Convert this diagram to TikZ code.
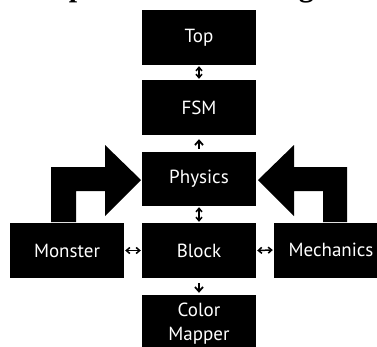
\documentclass[tikz,border=0pt]{standalone}
\usepackage{fontspec}
\setmainfont{PT Sans}
\newfontfamily\titlefont{Liberation Serif}
\usetikzlibrary{arrows.meta}
\begin{document}
\begin{tikzpicture}[x=1pt,y=-1pt,
  blk/.style={fill=black,text=white,minimum width=114pt,minimum height=55pt,inner sep=0pt,align=center,font=\fontsize{19}{24}\selectfont},
  link/.style={line width=1.5pt,{Straight Barb[length=3.5pt,width=6pt]}-{Straight Barb[length=3.5pt,width=6pt]}},
  one/.style={line width=1.8pt,-{Straight Barb[length=4.5pt,width=8pt]}},
  bent/.style={fill=black}]
\useasboundingbox (0,0) rectangle (377,346);
\clip (0,0) rectangle (377,346);
\node[anchor=base west,font=\titlefont\bfseries\fontsize{30}{36}\selectfont] (title) at (33,-3.5) {Top-Level Block Diagram};
\node[blk] (top) at (199,37.5) {Top};
\node[blk] (fsm) at (199,107.5) {FSM};
\node[blk,minimum height=54pt] (phys) at (199,179) {Physics};
\node[blk] (block) at (199,250.5) {Block};
\node[blk] (mon) at (67,250.5) {Monster};
\node[blk] (mech) at (331,250) {Mechanics};
\node[blk,minimum height=57pt] (cm) at (199,323.5) {Color\\Mapper};
\draw[link] ([yshift=-1pt]top.south) -- ([yshift=1pt]fsm.north);
\draw[one] ([yshift=3pt]phys.north) -- ([yshift=-4pt]fsm.south);
\draw[link] ([yshift=-1pt]phys.south) -- ([yshift=1pt]block.north);
\draw[link] ([xshift=1pt]mon.east) -- ([xshift=-1pt]block.west);
\draw[link] ([xshift=1pt]block.east) -- ([xshift=-1pt]mech.west);
\draw[one] ([yshift=-5pt]block.south) -- ([yshift=2pt]cm.north);
\fill[bent] (51,222) -- (51,167) -- (105,167) -- (105,145) -- (141,180) -- (105,216) -- (105,191) -- (76,191) -- (76,222) -- cycle;
\fill[bent] (323,222) -- (323,191) -- (294,191) -- (294,216) -- (258,180) -- (294,145) -- (294,167) -- (347,167) -- (347,222) -- cycle;
\end{tikzpicture}
\end{document}
